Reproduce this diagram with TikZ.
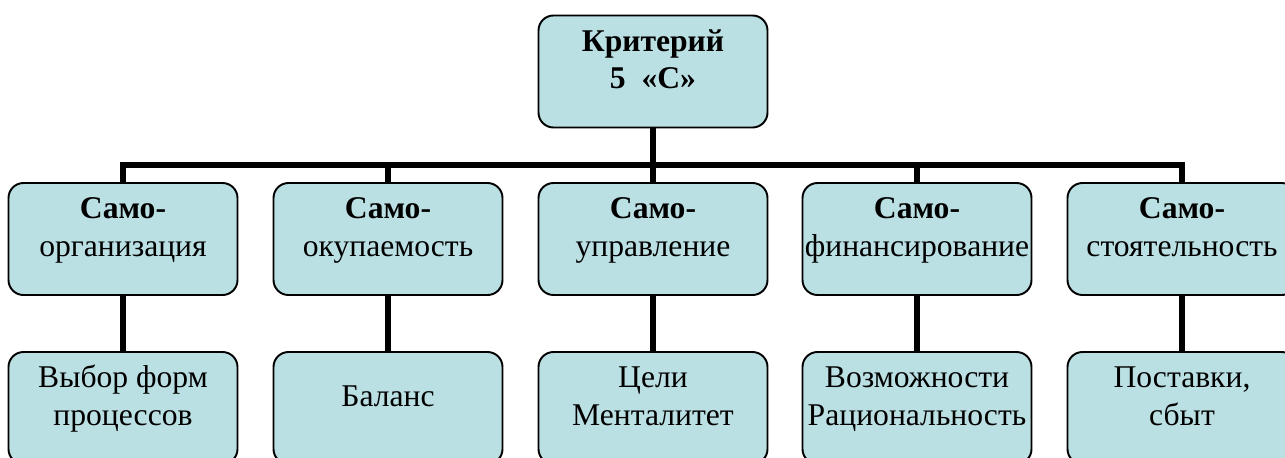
\documentclass[tikz,border=0pt]{standalone}
\usepackage{fontspec}
\setmainfont{Liberation Serif}
\usepackage{tikz}
\usetikzlibrary{calc}
\definecolor{cellblue}{RGB}{187, 224, 227}
\newcommand{\celltext}[1]{\parbox[c][2.24cm][c]{4.56cm}{\centering\strut #1\strut\par\vspace{0.36cm}}}

\begin{document}
\begin{tikzpicture}

\tikzstyle{cell} = [draw=black, line width=1.1pt, fill=cellblue, rounded corners=0.3cm,
inner sep=0, minimum width=4.58cm, minimum height=2.24cm, font=\fontsize{18}{21.5}\selectfont]
\tikzstyle{link} = [draw=black, line width=3.4pt]

\useasboundingbox (0,0) rectangle (25.7,9.14);
\clip (0,0) rectangle (25.7,9.14);

% top
\node [cell] (crit) at (13.06,7.71) {\celltext{\textbf{Критерий}\\ \textbf{5\ \ «С»}}};

% first row
\node [cell] (s1) at (2.46,4.36) {\celltext{\textbf{Само-}\\ организация}};
\node [cell] (s2) at (7.76,4.36) {\celltext{\textbf{Само-}\\ окупаемость}};
\node [cell] (s3) at (13.06,4.36) {\celltext{\textbf{Само-}\\ управление}};
\node [cell] (s4) at (18.34,4.36) {\celltext{\textbf{Само-}\\ финансирование}};
\node [cell] (s5) at (23.64,4.36) {\celltext{\textbf{Само-}\\ стоятельность}};

% second row
\node [cell] (d1) at (2.46,0.98) {\celltext{Выбор форм\\ процессов}};
\node [cell] (d2) at (7.76,0.98) {\celltext{Баланс}};
\node [cell] (d3) at (13.06,0.98) {\celltext{Цели\\ Менталитет}};
\node [cell] (d4) at (18.34,0.98) {\celltext{Возможности\\ Рациональность}};
\node [cell] (d5) at (23.64,0.98) {\celltext{Поставки,\\ сбыт}};

\coordinate (bar) at (13.06,5.84);

% connectors
\draw [link] (crit.south) -- (crit.south |- bar);
\draw [link] (s1.north) -- (s1.north |- bar) -- (s5.north |- bar) -- (s5.north);
\draw [link] (s2.north) -- (s2.north |- bar);
\draw [link] (s3.north) -- (s3.north |- bar);
\draw [link] (s4.north) -- (s4.north |- bar);

\draw [link] (s1.south) -- (d1.north);
\draw [link] (s2.south) -- (d2.north);
\draw [link] (s3.south) -- (d3.north);
\draw [link] (s4.south) -- (d4.north);
\draw [link] (s5.south) -- (d5.north);

\end{tikzpicture}
\end{document}
